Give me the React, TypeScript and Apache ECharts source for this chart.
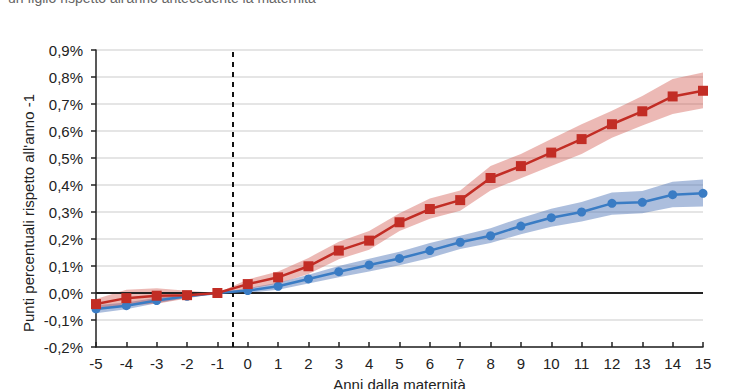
import React, { useEffect, useRef } from "react";
import * as echarts from "echarts";

const years = [-5, -4, -3, -2, -1, 0, 1, 2, 3, 4, 5, 6, 7, 8, 9, 10, 11, 12, 13, 14, 15];

const redVals = [-0.041, -0.019, -0.01, -0.008, 0, 0.033, 0.058, 0.099, 0.157, 0.194, 0.262, 0.311, 0.344, 0.426, 0.47, 0.52, 0.57, 0.625, 0.673, 0.728, 0.749];
const redLo = [-0.06, -0.045, -0.04, -0.02, 0, 0.015, 0.035, 0.07, 0.125, 0.16, 0.23, 0.275, 0.305, 0.38, 0.425, 0.47, 0.515, 0.575, 0.62, 0.663, 0.684];
const redHi = [-0.022, 0.012, 0.018, 0.008, 0, 0.05, 0.08, 0.13, 0.19, 0.23, 0.295, 0.35, 0.38, 0.47, 0.515, 0.57, 0.625, 0.675, 0.73, 0.793, 0.817];

const blueVals = [-0.059, -0.047, -0.028, -0.012, 0, 0.009, 0.025, 0.052, 0.079, 0.104, 0.128, 0.157, 0.188, 0.212, 0.248, 0.279, 0.3, 0.332, 0.336, 0.364, 0.369];
const blueLo = [-0.075, -0.06, -0.038, -0.018, 0, 0.0, 0.012, 0.035, 0.058, 0.08, 0.103, 0.13, 0.163, 0.185, 0.218, 0.245, 0.265, 0.29, 0.295, 0.318, 0.32];
const blueHi = [-0.045, -0.035, -0.018, -0.006, 0, 0.018, 0.038, 0.068, 0.1, 0.127, 0.153, 0.185, 0.212, 0.24, 0.278, 0.312, 0.337, 0.372, 0.378, 0.412, 0.42];

const refYear = [-0.5];
const zeroLine = [0];

const topText = "un figlio rispetto all'anno antecedente la maternità";
const yName = "Punti percentuali rispetto all'anno -1";
const xName = "Anni dalla maternità";

const FONT = "'Liberation Sans', Arial, Helvetica, sans-serif";

function bandSeries(lo: number[], hi: number[], color: string) {
  return {
    type: "custom",
    z: 2,
    silent: true,
    data: years.map((x, i) => [x, lo[i], hi[i]]),
    encode: { x: 0, y: [1, 2] },
    renderItem: (params: any, api: any) => {
      if (params.dataIndex !== 0) return null;
      const top = years.map((x, i) => api.coord([x, hi[i]]));
      const bot = years.map((x, i) => api.coord([x, lo[i]])).reverse();
      return {
        type: "polygon",
        shape: { points: top.concat(bot) },
        style: { fill: color },
      };
    },
  };
}

export default function App() {
  const ref = useRef<HTMLDivElement>(null);
  useEffect(() => {
    if (!ref.current) return;
    const chart = echarts.init(ref.current, null, { renderer: "svg" });
    chart.setOption({
      animation: false,
      backgroundColor: "#ffffff",
      textStyle: { fontFamily: FONT },
      grid: { left: 96, right: 37, top: 50, bottom: 42, containLabel: false, outerBoundsMode: "none" },
      graphic: [
        {
          type: "text",
          x: 8,
          y: 5,
          style: { text: topText, fontSize: 14, fill: "#666", fontFamily: FONT, verticalAlign: "bottom" },
        },
        {
          type: "text",
          x: 28,
          y: 213,
          rotation: Math.PI / 2,
          style: { text: yName, fontSize: 15, fill: "#222", fontFamily: FONT, align: "center", verticalAlign: "middle" },
        },
      ],
      xAxis: {
        type: "value",
        min: -5,
        max: 15,
        interval: 1,
        name: xName,
        nameLocation: "middle",
        nameGap: 30,
        nameTextStyle: { fontSize: 15, color: "#222", fontFamily: FONT },
        axisLine: { onZero: false, lineStyle: { color: "#222", width: 1.5 } },
        axisTick: { inside: true, length: 5, lineStyle: { color: "#222", width: 1.5 } },
        axisLabel: { fontSize: 15, color: "#222", margin: 9, fontFamily: FONT },
        splitLine: { show: false },
      },
      yAxis: {
        type: "value",
        min: -0.2,
        max: 0.9,
        interval: 0.1,
        axisLine: { show: true, onZero: false, lineStyle: { color: "#222", width: 1.5 } },
        axisTick: { show: true, inside: false, length: 5, lineStyle: { color: "#222", width: 1.5 } },
        axisLabel: {
          fontSize: 15,
          color: "#222",
          margin: 13,
          fontFamily: FONT,
          formatter: (v: number) => v.toFixed(1).replace(".", ",") + "%",
        },
        splitLine: { show: true, lineStyle: { color: "#dddddd", width: 1.5 } },
      },
      series: [
        bandSeries(blueLo, blueHi, "rgba(70,110,180,0.45)"),
        bandSeries(redLo, redHi, "rgba(205,70,60,0.38)"),
        {
          type: "line",
          data: [],
          z: 3,
          markLine: {
            silent: true,
            z: 5,
            symbol: ["none", "none"],
            label: { show: false },
            data: [
              ...zeroLine.map((v) => ({ yAxis: v, lineStyle: { color: "#222", width: 2, type: "solid" } })),
              ...refYear.map((v) => ({ xAxis: v, lineStyle: { color: "#111", width: 2, type: [5, 5] } })),
            ],
          },
        },
        {
          type: "line",
          z: 10,
          data: years.map((x, i) => [x, blueVals[i]]),
          symbol: "circle",
          symbolSize: 9,
          lineStyle: { color: "#3a7cc4", width: 2.5 },
          itemStyle: { color: "#3a7cc4" },
        },
        {
          type: "line",
          z: 11,
          data: years.map((x, i) => [x, redVals[i]]),
          symbol: "rect",
          symbolSize: 10,
          lineStyle: { color: "#c22d25", width: 2.5 },
          itemStyle: { color: "#c22d25" },
        },
      ],
    });
    return () => chart.dispose();
  }, []);
  return (
    <div
      ref={ref}
      style={{ position: "absolute", left: 0, top: 0, width: 740, height: 389, background: "#fff" }}
    />
  );
}
